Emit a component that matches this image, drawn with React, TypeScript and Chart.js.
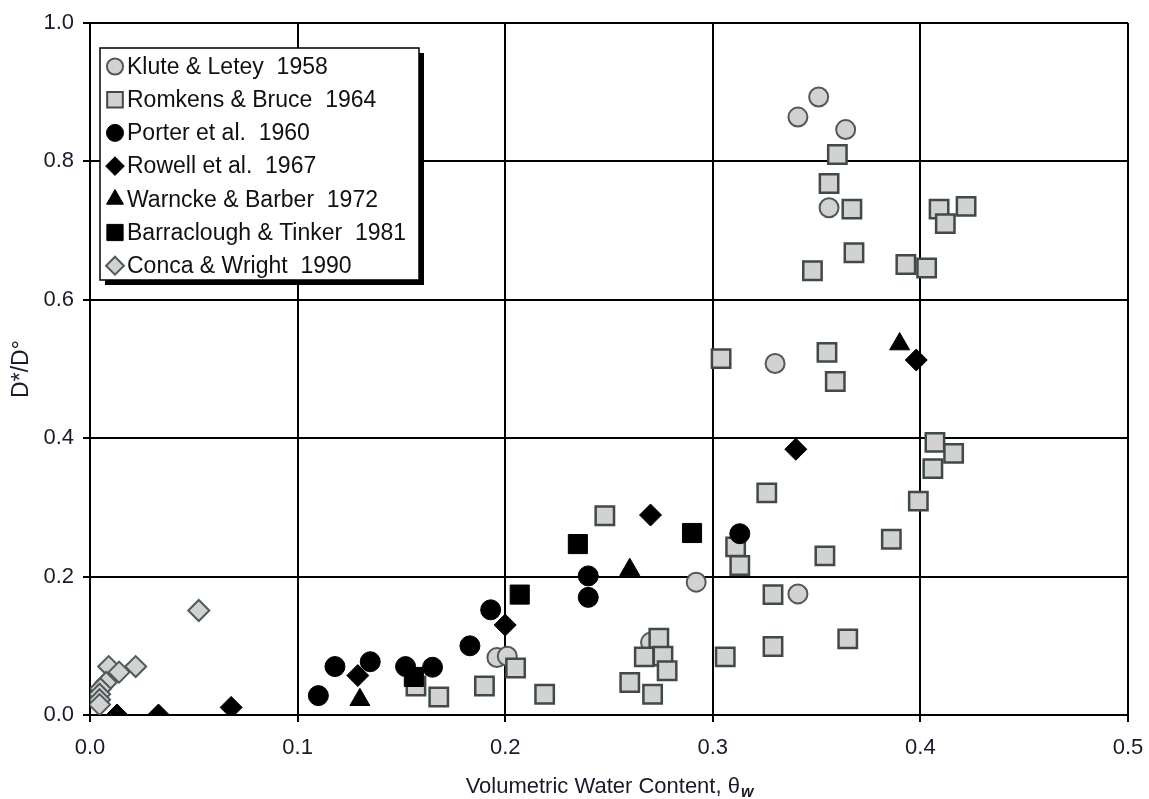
import React, { useEffect, useRef } from 'react';
import { Chart, registerables } from 'chart.js';

Chart.register(...registerables);

// ---- Data ----
const kluteX = [0.341, 0.351, 0.364, 0.356, 0.330, 0.292, 0.341, 0.196, 0.201, 0.270];
const kluteY = [0.864, 0.893, 0.846, 0.733, 0.508, 0.192, 0.175, 0.083, 0.085, 0.105];

const romkensX = [0.360, 0.356, 0.367, 0.368, 0.348, 0.393, 0.403, 0.409, 0.412, 0.422, 0.304, 0.355, 0.359, 0.407, 0.416, 0.406, 0.399, 0.386, 0.354, 0.365, 0.326, 0.311, 0.313, 0.329, 0.329, 0.306, 0.248, 0.274, 0.267, 0.276, 0.278, 0.260, 0.271, 0.219, 0.205, 0.190, 0.168, 0.157];
const romkensY = [0.810, 0.768, 0.731, 0.668, 0.642, 0.651, 0.646, 0.731, 0.710, 0.735, 0.515, 0.524, 0.482, 0.394, 0.378, 0.356, 0.309, 0.254, 0.230, 0.110, 0.321, 0.243, 0.216, 0.174, 0.099, 0.084, 0.288, 0.111, 0.084, 0.085, 0.064, 0.047, 0.030, 0.030, 0.068, 0.042, 0.026, 0.042];

const porterX = [0.110, 0.118, 0.135, 0.152, 0.165, 0.183, 0.193, 0.240, 0.240, 0.313];
const porterY = [0.028, 0.070, 0.077, 0.070, 0.069, 0.100, 0.152, 0.201, 0.170, 0.262];

const rowellX = [0.013, 0.033, 0.068, 0.129, 0.200, 0.270, 0.340, 0.398];
const rowellY = [0.000, 0.000, 0.011, 0.057, 0.130, 0.289, 0.384, 0.513];

const warnckeX = [0.130, 0.260, 0.390];
const warnckeY = [0.022, 0.210, 0.536];

const barracloughX = [0.156, 0.207, 0.235, 0.290];
const barracloughY = [0.055, 0.174, 0.247, 0.263];

const concaX = [0.0524, 0.009, 0.014, 0.022, 0.0078, 0.005, 0.0046, 0.0046, 0.0046];
const concaY = [0.151, 0.070, 0.062, 0.070, 0.047, 0.038, 0.030, 0.022, 0.015];

const seriesLabels = [
  'Klute & Letey  1958',
  'Romkens & Bruce  1964',
  'Porter et al.  1960',
  'Rowell et al.  1967',
  'Warncke & Barber  1972',
  'Barraclough & Tinker  1981',
  'Conca & Wright  1990',
];

const xTicks = [0, 0.1, 0.2, 0.3, 0.4, 0.5];
const yTicks = [0, 0.2, 0.4, 0.6, 0.8, 1.0];

const xTitle = 'Volumetric Water Content, \u03B8';
const xTitleSub = 'w';
const yTitle = 'D*/D\u00B0';

const FONT = '"Liberation Sans", Arial, Helvetica, sans-serif';
const GRAY_FILL = '#d2d2d2';
const GRAY_EDGE = '#414949';
const TEXT = '#1a1a2a';

const zip = (xs: number[], ys: number[]) => xs.map((x, i) => ({ x, y: ys[i] }));

type Style = { shape: string; r: number; bg: string; edge: string; bw: number; order: number };
const styles: Style[] = [
  { shape: 'circle', r: 9.5, bg: GRAY_FILL, edge: '#505858', bw: 2, order: 7 },
  { shape: 'rect', r: 13, bg: GRAY_FILL, edge: GRAY_EDGE, bw: 2.5, order: 6 },
  { shape: 'circle', r: 10, bg: '#000', edge: '#000', bw: 1, order: 4 },
  { shape: 'rectRot', r: 11, bg: '#000', edge: '#000', bw: 1, order: 3 },
  { shape: 'triangle', r: 11.5, bg: '#000', edge: '#000', bw: 1, order: 2 },
  { shape: 'rect', r: 13.5, bg: '#000', edge: '#000', bw: 1, order: 1 },
  { shape: 'rectRot', r: 10.5, bg: GRAY_FILL, edge: '#505a5a', bw: 2, order: 5 },
];

const seriesData = [
  zip(kluteX, kluteY),
  zip(romkensX, romkensY),
  zip(porterX, porterY),
  zip(rowellX, rowellY),
  zip(warnckeX, warnckeY),
  zip(barracloughX, barracloughY),
  zip(concaX, concaY),
];

function drawMarker(ctx: CanvasRenderingContext2D, s: Style, x: number, y: number, r: number) {
  ctx.save();
  ctx.fillStyle = s.bg;
  ctx.strokeStyle = s.edge;
  ctx.lineWidth = s.bw;
  ctx.beginPath();
  if (s.shape === 'circle') {
    ctx.arc(x, y, r, 0, Math.PI * 2);
  } else if (s.shape === 'rect') {
    const h = r * Math.SQRT1_2;
    ctx.rect(x - h, y - h, 2 * h, 2 * h);
  } else if (s.shape === 'rectRot') {
    ctx.moveTo(x, y - r);
    ctx.lineTo(x + r, y);
    ctx.lineTo(x, y + r);
    ctx.lineTo(x - r, y);
    ctx.closePath();
  } else if (s.shape === 'triangle') {
    ctx.moveTo(x, y - r);
    ctx.lineTo(x + r * 0.866, y + r / 2);
    ctx.lineTo(x - r * 0.866, y + r / 2);
    ctx.closePath();
  }
  ctx.fill();
  if (s.bw > 0) ctx.stroke();
  ctx.restore();
}

const overlayPlugin = {
  id: 'overlay',
  afterDraw(chart: any) {
    const ctx: CanvasRenderingContext2D = chart.ctx;
    const a = chart.chartArea;
    ctx.save();
    // Legend box with drop shadow
    const lx = 100, ly = 48, lw = 319, lh = 232;
    ctx.fillStyle = '#000';
    ctx.fillRect(lx + 5, ly + 5, lw, lh);
    ctx.fillStyle = '#fff';
    ctx.fillRect(lx, ly, lw, lh);
    ctx.lineWidth = 1.5;
    ctx.strokeStyle = '#000';
    ctx.strokeRect(lx, ly, lw, lh);
    ctx.font = `23px ${FONT}`;
    ctx.textBaseline = 'middle';
    ctx.textAlign = 'left';
    seriesLabels.forEach((label, i) => {
      const cy = ly + 18.5 + i * 33.2;
      const s = styles[i];
      drawMarker(ctx, { ...s, bw: s.bw > 1 ? 2 : s.bw }, 115, cy, s.r * 0.85);
      ctx.fillStyle = '#111';
      ctx.fillText(label, 127, cy + 1);
    });

    // X axis title with subscript
    ctx.fillStyle = TEXT;
    ctx.font = `22px ${FONT}`;
    ctx.textBaseline = 'alphabetic';
    const mainW = ctx.measureText(xTitle).width;
    ctx.font = `italic bold 16px ${FONT}`;
    const subW = ctx.measureText(xTitleSub).width;
    const cx = (a.left + a.right) / 2;
    const startX = cx - (mainW + subW) / 2;
    ctx.font = `22px ${FONT}`;
    ctx.fillText(xTitle, startX, 793);
    ctx.font = `italic bold 16px ${FONT}`;
    ctx.fillText(xTitleSub, startX + mainW + 1, 797);

    // Y axis title (rotated)
    ctx.translate(22, (a.top + a.bottom) / 2);
    ctx.rotate(-Math.PI / 2);
    ctx.font = `23px ${FONT}`;
    ctx.textAlign = 'center';
    ctx.textBaseline = 'middle';
    ctx.fillText(yTitle, 0, 0);
    ctx.restore();
  },
};

export default function App() {
  const ref = useRef<HTMLCanvasElement>(null);
  useEffect(() => {
    if (!ref.current) return;
    const chart = new Chart(ref.current, {
      type: 'scatter',
      data: {
        datasets: seriesData.map((d, i) => ({
          label: seriesLabels[i],
          data: d,
          order: styles[i].order,
          pointStyle: styles[i].shape as any,
          pointRadius: styles[i].r,
          pointHoverRadius: styles[i].r,
          backgroundColor: styles[i].bg,
          borderColor: styles[i].edge,
          pointBorderWidth: styles[i].bw,
          borderWidth: styles[i].bw,
          showLine: false,
        })),
      },
      options: {
        responsive: false,
        animation: false,
        events: [],
        layout: { padding: { left: 0, top: 23, right: 21, bottom: 0 } },
        plugins: {
          legend: { display: false },
          tooltip: { enabled: false },
        },
        scales: {
          x: {
            type: 'linear',
            min: 0,
            max: 0.5,
            afterBuildTicks: (s: any) => { s.ticks = xTicks.map((v) => ({ value: v })); },
            afterFit: (s: any) => { s.height = 84; s.paddingRight = 0; s.paddingLeft = 0; },
            ticks: {
              font: { size: 22, family: FONT },
              color: TEXT,
              padding: 13,
              maxRotation: 0,
              callback: (v: any) => Number(v).toFixed(1),
            },
            grid: { color: '#000', lineWidth: 2, tickLength: 7, tickColor: '#000', tickWidth: 2 },
            border: { display: true, color: '#000', width: 2 },
          },
          y: {
            type: 'linear',
            min: 0,
            max: 1,
            afterBuildTicks: (s: any) => { s.ticks = yTicks.map((v) => ({ value: v })); },
            afterFit: (s: any) => { s.width = 90; s.paddingTop = 0; s.paddingBottom = 0; },
            ticks: {
              font: { size: 22, family: FONT },
              color: TEXT,
              padding: 9,
              callback: (v: any) => Number(v).toFixed(1),
            },
            grid: { color: '#000', lineWidth: 2, tickLength: 7, tickColor: '#000', tickWidth: 2 },
            border: { display: true, color: '#000', width: 2 },
          },
        },
      },
      plugins: [overlayPlugin],
    } as any);
    return () => chart.destroy();
  }, []);
  return (
    <div style={{ position: 'fixed', left: 0, top: 0, width: 1149, height: 799, background: '#fff' }}>
      <canvas ref={ref} width={1149} height={799} style={{ display: 'block' }} />
    </div>
  );
}
